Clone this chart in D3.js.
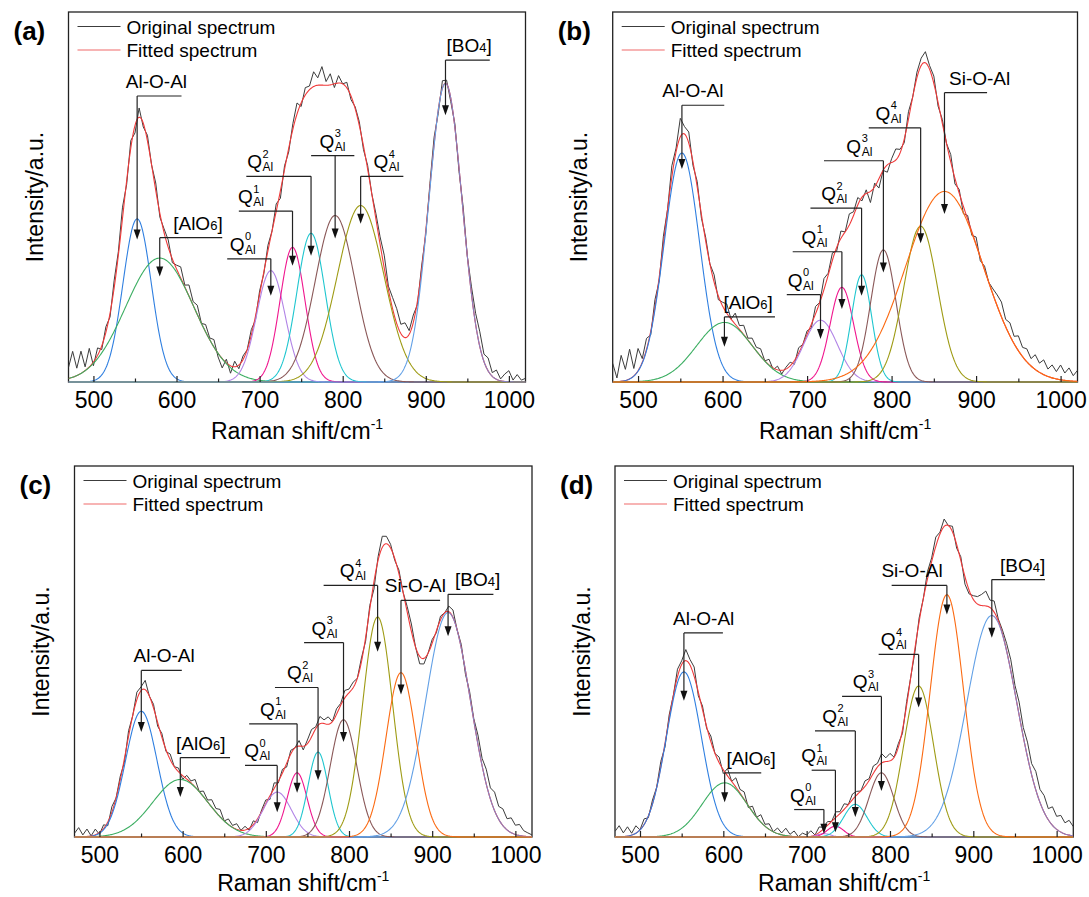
<!DOCTYPE html>
<html>
<head>
<meta charset="utf-8">
<script src="https://cdn.jsdelivr.net/npm/d3@7"></script>
<style>
  body { margin: 0; background: #fff; }
  svg { display: block; }
  text { font-family: Arial, "Liberation Sans", sans-serif; fill: #000; }
</style>
</head>
<body>
<svg id="chart" width="1089" height="897"></svg>
<script>
// Raman shift axis (cm-1) and the sampling of the measured spectra
var xDomain = [470, 1020];
var xMajorTicks = [500, 600, 700, 800, 900, 1000];
var xMinorTicks = [550, 650, 750, 850, 950];
var ramanStart = 470, ramanStep = 5;

// fitted peaks, panel (a): centre (cm-1), height (a.u., 0..100 = frame), sigma (cm-1)
var aNames   = ["Al-O-Al", "[AlO6]", "Q0", "Q1", "Q2", "Q3", "Q4", "[BO4]"];
var aCenters = [552.6, 579.8, 713.5, 739.6, 761.9, 790.9, 821.6, 923.7];
var aHeights = [44.1, 33.5, 30.1, 36.4, 40.2, 45, 47.7, 80.7];
var aSigmas  = [17, 41, 17, 15, 17, 24, 28, 20];

// panel (b)
var bNames   = ["Al-O-Al", "[AlO6]", "Q0", "Q1", "Q2", "Q3", "Q4", "Si-O-Al"];
var bCenters = [551.9, 602.2, 715.9, 741.2, 764.5, 790.3, 834.4, 862.6];
var bHeights = [61.9, 16.1, 16.7, 25.6, 29, 35.7, 42.1, 51.5];
var bSigmas  = [21, 33, 20, 14, 12, 15, 20, 46];

// panel (c)
var cNames   = ["Al-O-Al", "[AlO6]", "Q0", "Q1", "Q2", "Q3", "Q4", "Si-O-Al", "[BO4]"];
var cCenters = [550.3, 597.2, 713.7, 737.6, 762.8, 793.4, 834.4, 862.5, 919.1];
var cHeights = [33.9, 15.5, 12.1, 17.3, 22.9, 31.6, 59.3, 44.3, 60.5];
var cSigmas  = [19, 33, 17, 12, 12, 16, 18, 18, 27];

// panel (d)
var dNames   = ["Al-O-Al", "[AlO6]", "Q0", "Q1", "Q2", "Q3", "Q4", "Si-O-Al", "[BO4]"];
var dCenters = [552.7, 601.6, 720.7, 734.5, 758.4, 789.7, 834.4, 868.3, 922.2];
var dHeights = [44.5, 14.6, 0.9, 2.9, 8.8, 17.3, 40.7, 65.3, 59.7];
var dSigmas  = [21, 27, 8, 10, 14, 15, 18, 20, 30];

// original spectrum minus fitted spectrum, every 5 cm-1 from 470 to 1020
var aResidual = [3, 7, 2, 6, 1, 5, -1, 2, -1, 1.5,
  -1, 2, 1, 3, -1, 2, -2, 2.5, -1, 1.5,
  0, 2, -1, 1, 2, -1, 1, 3, 0.5, 3,
  1, 2.5, 0, 2, 0.5, 2, -1, -2.5, 1, -2,
  1.5, -1, 1, 0, 1.5, -1, 1, -0.5, 1.5, 0,
  2, -2, 1, -1, 1.5, 3, -1, 2, 1, 4,
  2, 5, 1, 3, -1, 2, 0, 1.5, -1, 0.5,
  1, -1, 1, 0, 1.5, 2, 3.5, 1, 3, 4,
  2.5, 4, 1, 2, -1, 1, -1, 1, 2, -1,
  2, 1, -1, 1, -1, 1.5, 0, 2, 3, 4,
  2, 3.5, 1, 2.5, 0.5, 2, 3, 0.5, 2, 0.5,
  1];
var bResidual = [5, 1, 7, 3, 8, 2, 6, 1, 3, -1,
  2, -1, 2, 0, 3, 1, 5, 2, 3, -1,
  1.5, -1, 1, 0, 2, -1, 1, 2.5, 0, 3,
  1, 2.5, 0.5, 2, 1, 2, 0, 1.5, -0.5, 1,
  -1, 0.5, 1, -1, 1.5, 0, 1, -1, 2, 0,
  3, 0.5, 2, -1, 2, 0, 3, 1, 2, -1,
  1, -3, 1, -2.5, 0, -2, 1, 3, 1, -1,
  2, 0, 1.5, 2, 3, 1, 2, -1, 1, 0,
  2, -1.5, 1, -2, 1, -1, 2, -1, 1, 0,
  1.5, 3, 4, 2, 3.5, 2, 4, 2.5, 3.5, 2,
  4, 2.5, 4, 2, 3.5, 2, 4, 2, 3.5, 1.5,
  3];
var cResidual = [1, 2.5, 0.5, 2, 0, 1.5, -0.5, 1, -1, 1.5,
  0, 1, -1, 1.5, 0, 2, 1, 2.5, 0, 1,
  -1, 1, -0.5, 1.5, 0, 1, -1, 1, 0.5, 2,
  0, 1.5, 0.5, 2, 1, 2, 0, 1.5, 0.5, 1.5,
  0, 1, -0.5, 1, -1, 0.5, 1, -1, 1.5, -0.5,
  1, -1, 1, 0, 1.5, -1, 1, 2, 0.5, 2,
  1, 2, 0, 1.5, 0.5, 2, 1, 1.5, 0, 1,
  -1, 1, -2, 1, 3, 2, 1, -0.5, 1, 0,
  1.5, 2, 0, -2, -1.5, 0, 1, -0.5, 1, 0,
  1.5, 2, 0, 1, -1, 1, 0.5, 2.5, 2, 4,
  3, 5, 3.5, 4.5, 3, 4, 2.5, 3, 1.5, 1,
  0.5];
var dResidual = [1.5, 3, 1, 2.5, 0.5, 2, 0, 1.5, -0.5, 1,
  0, 1.5, -1, 1, 0, 2, 1, 3, 1.5, 2.5,
  -1, 1, -0.5, 1.5, 0, 1.5, -1, 2, 0, 2.5,
  1, 2, -0.5, 1.5, 0, 2, 0.5, 1.5, 0, 1.5,
  0.5, 2, 0.5, 1.5, 0, 1, 0.5, 1.5, 0, 1.5,
  0.5, 1, 0, 1.5, 0.5, 1.5, 0, 1.5, 1, 0,
  1.5, 0.5, 2, 1, 2.5, 1, 2, 0, 1, -1,
  1, 0, -1, 1, 0, 2, 1, 2.5, 0.5, 2,
  0, 1.5, -1, 1, -2, -1, 1, 2, 3, 4,
  2, 3, 0.5, 1, 2, 3, 2, 3.5, 2.5, 4,
  3, 5, 3.5, 4.5, 3, 5, 3.5, 4.5, 3, 4,
  2.5];

// annotation placement per peak: [text x, bar y, bar from x, bar to x, arrow tip y] (data units)
var aLabelPos = [[539, 77.3, 552.6, 606, 38.5], [596, 39, 579.8, 655, 28.5], [664, 33.3, 661, 713.5, 23.3],
  [674, 46.2, 675, 739.6, 31.4], [685, 55.6, 684, 761.9, 34.1], [772, 61.2, 762, 814, 38.8],
  [837, 55.6, 821.6, 873, 42.8], [925, 87, 923.7, 977, 72.1]];
var bLabelPos = [[528.6, 74.8, 551.9, 602, 57.6], [601, 17.6, 602.2, 662, 9.5], [677, 23.6, 676, 715.9, 11.6],
  [693.4, 35.2, 683, 741.2, 19.7], [716.7, 47, 704, 764.5, 23.3], [746.5, 59.8, 720, 790.3, 29.6],
  [781, 68.7, 773, 834.4, 37.5], [868, 78.2, 862.6, 913, 45.4]];
var cLabelPos = [[541, 44.9, 550.3, 599, 28.3], [592, 21.4, 597.2, 657, 10.8], [674, 19.3, 675, 713.7, 6.7],
  [693, 30.5, 680, 737.6, 11.9], [725.5, 40.3, 711, 762.8, 15.3], [755, 52.4, 746, 793.4, 25.6],
  [789, 67.8, 769.5, 834.4, 49.9], [843, 63.8, 862.5, 909.5, 38.4], [927.5, 65.4, 919.1, 973.6, 54.1]];
var dLabelPos = [[539.7, 55, 552.7, 599.5, 36.7], [603.7, 17.3, 601.6, 645.5, 9.4], [680, 7.4, 685, 720.7, 0.9],
  [693.6, 18, 706, 734.5, 1.3], [718.6, 28.6, 710, 758.4, 5.4], [755.4, 37.9, 742.5, 789.7, 12.4],
  [789, 49.2, 786.4, 834.4, 34.9], [789.7, 67.8, 802, 868.3, 60], [932, 69.4, 922.2, 986, 53.7]];

var peakColor = {
  "Al-O-Al": "#2f7fe0", "[AlO6]": "#3cae62", "Q0": "#b184e6", "Q1": "#f0168e",
  "Q2": "#1fc6cf", "Q3": "#8a5858", "Q4": "#9e9b14", "Si-O-Al": "#fb6a12", "[BO4]": "#62a0e6"
};
var bo4RightColor = "#8781c2";

var panels = [
  {tag: "(a)", names: aNames, centers: aCenters, heights: aHeights, sigmas: aSigmas, resid: aResidual, pos: aLabelPos, box: [68.5, 12, 525.5, 382]},
  {tag: "(b)", names: bNames, centers: bCenters, heights: bHeights, sigmas: bSigmas, resid: bResidual, pos: bLabelPos, box: [612.7, 12, 1077.5, 382]},
  {tag: "(c)", names: cNames, centers: cCenters, heights: cHeights, sigmas: cSigmas, resid: cResidual, pos: cLabelPos, box: [74.5, 466, 532, 837]},
  {tag: "(d)", names: dNames, centers: dCenters, heights: dHeights, sigmas: dSigmas, resid: dResidual, pos: dLabelPos, box: [615, 466, 1073.3, 837]}
];

function gauss(x, c, h, s) {
  return h * Math.exp(-(x - c) * (x - c) / (2 * s * s));
}

var svg = d3.select("#chart");
var fine = d3.range(xDomain[0], xDomain[1] + 0.5, 1);

function drawLabel(g, name, x, y) {
  var q = /^Q(\d)$/.exec(name);
  var br = /^\[(\D+)(\d)\]$/.exec(name);
  var t = g.append("text").attr("x", x).attr("y", y).attr("font-size", 19);
  if (q) {
    // Q with superscript index and subscript Al stacked after it
    t.append("tspan").text("Q");
    var w = t.node().getComputedTextLength();
    t.append("tspan").attr("x", x + w + 0.5).attr("dy", -10.5).attr("font-size", 11).text(q[1]);
    t.append("tspan").attr("x", x + w + 0.5).attr("dy", 13.5).attr("font-size", 12).text("Al");
  } else if (br) {
    t.append("tspan").text("[" + br[1]);
    t.append("tspan").attr("font-size", 13).text(br[2]);
    t.append("tspan").text("]");
  } else {
    t.text(name);
  }
}

panels.forEach(function(p, pi) {
  var x0 = p.box[0], y0 = p.box[1], x1 = p.box[2], y1 = p.box[3];
  var x = d3.scaleLinear().domain(xDomain).range([x0, x1]);
  var y = d3.scaleLinear().domain([0, 100]).range([y1, y0]);
  var g = svg.append("g");

  g.append("clipPath").attr("id", "clip" + pi)
    .append("rect").attr("x", x0).attr("y", y0).attr("width", x1 - x0).attr("height", y1 - y0 + 1);

  g.append("rect").attr("x", x0).attr("y", y0).attr("width", x1 - x0).attr("height", y1 - y0)
    .attr("fill", "none").attr("stroke", "#222").attr("stroke-width", 1.3);

  function fitAt(v) {
    var s = 0;
    p.centers.forEach(function(c, k) { s += gauss(v, c, p.heights[k], p.sigmas[k]); });
    return s;
  }

  var line = d3.line().x(function(d) { return x(d[0]); }).y(function(d) { return y(d[1]); });
  var plot = g.append("g").attr("clip-path", "url(#clip" + pi + ")").attr("fill", "none");

  // original spectrum
  var orig = p.resid.map(function(r, i) {
    var v = ramanStart + i * ramanStep;
    return [v, Math.max(0, fitAt(v) + r)];
  });
  plot.append("path").attr("d", line(orig)).attr("stroke", "#3c3c3c").attr("stroke-width", 1);

  // fitted spectrum
  plot.append("path").attr("d", line(fine.map(function(v) { return [v, fitAt(v)]; })))
    .attr("stroke", "#f03a3a").attr("stroke-width", 1.1);

  // component peaks, Si-O-Al drawn last
  var order = d3.range(p.names.length).sort(function(i, j) {
    return (p.names[i] === "Si-O-Al") - (p.names[j] === "Si-O-Al") || i - j;
  });
  order.forEach(function(k) {
    var pts = fine.map(function(v) { return [v, gauss(v, p.centers[k], p.heights[k], p.sigmas[k])]; });
    if (p.names[k] === "[BO4]") {
      var left = pts.filter(function(d) { return d[0] <= p.centers[k]; });
      var right = pts.filter(function(d) { return d[0] >= p.centers[k] - 1; });
      plot.append("path").attr("d", line(left)).attr("stroke", peakColor[p.names[k]]).attr("stroke-width", 1.1);
      plot.append("path").attr("d", line(right)).attr("stroke", bo4RightColor).attr("stroke-width", 1.1);
    } else {
      plot.append("path").attr("d", line(pts)).attr("stroke", peakColor[p.names[k]]).attr("stroke-width", 1.1);
    }
  });

  // x axis, ticks pointing inwards
  var ax = g.append("g").attr("transform", "translate(0," + y1 + ")")
    .call(d3.axisBottom(x).tickValues(xMajorTicks).tickFormat(d3.format("d"))
      .tickSizeInner(-6).tickSizeOuter(0).tickPadding(10))
    .attr("font-size", 23).attr("font-family", "Arial, 'Liberation Sans', sans-serif");
  ax.select(".domain").remove();
  ax.selectAll("line").attr("stroke", "#222").attr("stroke-width", 1.2);
  ax.selectAll("text").attr("fill", "#000");
  var axm = g.append("g").attr("transform", "translate(0," + y1 + ")")
    .call(d3.axisBottom(x).tickValues(xMinorTicks).tickSize(-3.5).tickFormat(""));
  axm.select(".domain").remove();
  axm.selectAll("line").attr("stroke", "#222").attr("stroke-width", 1.2);

  // peak annotations
  p.pos.forEach(function(a, k) {
    var name = p.names[k], cx = x(p.centers[k]), ly = y(a[1]), tip = y(a[4]);
    g.append("line").attr("x1", x(a[2])).attr("x2", x(a[3])).attr("y1", ly).attr("y2", ly)
      .attr("stroke", "#222").attr("stroke-width", 1.2);
    g.append("line").attr("x1", cx).attr("x2", cx).attr("y1", ly).attr("y2", tip - 8)
      .attr("stroke", "#222").attr("stroke-width", 1.2);
    g.append("path").attr("d", "M" + (cx - 3.5) + "," + (tip - 10) + "L" + (cx + 3.5) + "," + (tip - 10) + "L" + cx + "," + tip + "Z")
      .attr("fill", "#111");
    drawLabel(g, name, x(a[0]), ly - 8);
  });

  // legend
  var legend = [["Original spectrum", "#3c3c3c"], ["Fitted spectrum", "#f06a6a"]];
  legend.forEach(function(l, i) {
    var ly = y0 + 14.5 + i * 23.5;
    g.append("line").attr("x1", x0 + 9).attr("x2", x0 + 52).attr("y1", ly).attr("y2", ly)
      .attr("stroke", l[1]).attr("stroke-width", 1.2);
    g.append("text").attr("x", x0 + 58).attr("y", ly + 7).attr("font-size", 19).text(l[0]);
  });

  // axis titles and panel tag
  var xt = g.append("text").attr("x", (x0 + x1) / 2).attr("y", Math.min(y1 + 57, 891))
    .attr("text-anchor", "middle").attr("font-size", 23);
  xt.append("tspan").text("Raman shift/cm");
  xt.append("tspan").attr("font-size", 14).attr("dy", -10).text("-1");

  g.append("text").attr("transform", "translate(" + (x0 - 25.5) + "," + ((y0 + y1) / 2) + ") rotate(-90)")
    .attr("text-anchor", "middle").attr("font-size", 23).text("Intensity/a.u.");

  g.append("text").attr("x", x0 - 55).attr("y", y0 + 28).attr("font-size", 26)
    .attr("font-weight", "bold").text(p.tag);
});
</script>
</body>
</html>
